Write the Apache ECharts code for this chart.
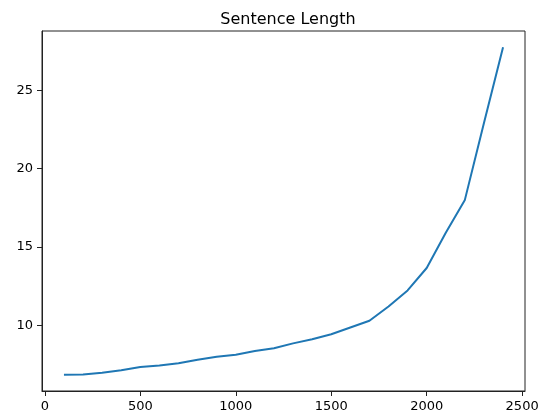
<!DOCTYPE html>
<html>
<head>
<meta charset="utf-8">
<script src="https://cdn.jsdelivr.net/npm/echarts@6/dist/echarts.min.js"></script>
<style>
  html, body { margin: 0; padding: 0; background: #fff; }
  #main { width: 546px; height: 417px; }
</style>
</head>
<body>
<div id="main"></div>
<script>
// x: sentence index, y: average sentence length
const xValues = [100, 200, 300, 400, 500, 600, 700, 800, 900, 1000, 1100, 1200,
  1300, 1400, 1500, 1600, 1700, 1800, 1900, 2000, 2100, 2200, 2300, 2400];
const lengths = [6.83, 6.85, 6.97, 7.12, 7.33, 7.43, 7.57, 7.79, 7.98, 8.12, 8.35, 8.53,
  8.84, 9.10, 9.42, 9.85, 10.28, 11.19, 12.22, 13.65, 15.9, 18.0, 22.9, 27.75];
const xTicks = [0, 500, 1000, 1500, 2000, 2500];
const yTicks = [10, 15, 20, 25];

const chart = echarts.init(document.getElementById("main"));
const font = "DejaVu Sans";
const axisColor = "#222";

chart.setOption({
  animation: false,
  title: {
    text: "Sentence Length",
    left: 283,
    top: 7,
    textAlign: "center",
    textStyle: { fontFamily: font, fontSize: 16, fontWeight: "normal", color: "#000" },
  },
  grid: {
    left: 42,
    right: 21,
    top: 31,
    bottom: 26,
    show: true,
    borderColor: axisColor,
    borderWidth: 1,
  },
  xAxis: {
    type: "value",
    min: -15,
    max: 2515,
    axisLine: { show: true, onZero: false, lineStyle: { color: axisColor } },
    axisTick: { show: true, length: 5, customValues: xTicks, lineStyle: { color: axisColor } },
    axisLabel: {
      customValues: xTicks,
      formatter: (v) => String(v),
      color: "#000",
      fontFamily: font,
      fontSize: 13,
      margin: 9,
    },
    splitLine: { show: false },
  },
  yAxis: {
    type: "value",
    min: 5.8,
    max: 28.78,
    axisLine: { show: true, onZero: false, lineStyle: { color: axisColor } },
    axisTick: { show: true, length: 5, customValues: yTicks, lineStyle: { color: axisColor } },
    axisLabel: {
      customValues: yTicks,
      formatter: (v) => String(v),
      color: "#000",
      fontFamily: font,
      fontSize: 13,
      margin: 9,
    },
    splitLine: { show: false },
  },
  series: [
    {
      type: "line",
      data: xValues.map((x, i) => [x, lengths[i]]),
      showSymbol: false,
      lineStyle: { color: "#1f77b4", width: 2 },
    },
  ],
});
</script>
</body>
</html>
